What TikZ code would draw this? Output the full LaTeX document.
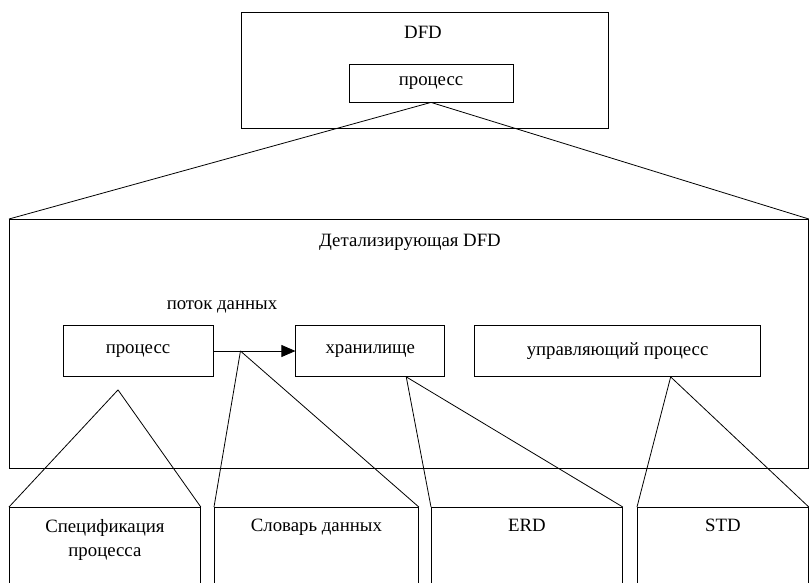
\documentclass[tikz,border=0pt]{standalone}
\usepackage{fontspec}
\setmainfont{Liberation Serif}
\usetikzlibrary{positioning}
\usetikzlibrary{arrows.meta}
\usetikzlibrary{calc}

\begin{document}
\begin{tikzpicture}[x=1pt,y=-1pt,font=\fontsize{18.8}{24}\selectfont,line width=0.8pt,
  frame/.style={draw,rectangle,inner sep=0pt,anchor=north west},
  box/.style={draw,rectangle,inner sep=0pt,minimum height=51pt},
  leaf/.style={draw,rectangle,inner sep=0pt,anchor=north west,minimum height=110pt},
  caption/.style={inner sep=0pt,anchor=north,align=center}]
\useasboundingbox (0,0) rectangle (809,582);
\clip (0,0) rectangle (809,582);
% upper level
\node[frame,minimum width=367pt,minimum height=116pt](dfd) at (241,12){};
\node(dfdT) at (423,32){DFD};
\node[draw,inner sep=0pt,minimum width=164pt,minimum height=38pt](top) at (431,83){процесс};
% detailed level
\node[frame,minimum width=799pt,minimum height=249pt](detail) at (9,219){};
\node(detailT) at (410,242){Детализирующая DFD};
\node[box,minimum width=150pt](proc) at (138,351){процесс};
\node[box,minimum width=149pt,right=82pt of proc](store){хранилище};
\node[box,minimum width=286pt,right=29pt of store](ctrl){управляющий процесс};
\node(flowT) at (222,307){поток данных};
\draw[-{Triangle[length=14pt,width=12pt]}] (proc) -- (store);
\coordinate (fork) at ($(proc.east)!0.33!(store.west)$);
\coordinate (specTop) at ($(proc.south)+(-20,13)$);
\coordinate (storeBot) at ($(store.south west)!0.74!(store.south east)$);
\coordinate (ctrlBot) at ($(ctrl.south west)!0.685!(ctrl.south east)$);
% lower level
\node[leaf,minimum width=191pt](spec) at (9,507){};
\node[leaf,minimum width=204pt](dict) at (214,507){};
\node[leaf,minimum width=191pt](erd) at (431,507){};
\node[leaf,minimum width=171pt](std) at (637,507){};
\node[caption,below=12pt of spec.north](specT){Спецификация\\процесса};
\node[caption,below=12pt of dict.north](dictT){Словарь данных};
\node[caption,below=12pt of erd.north](erdT){ERD};
\node[caption,below=12pt of std.north](stdT){STD};
% links
\draw (top.south) -- (detail.north west);
\draw (top.south) -- (detail.north east);
\draw (specTop) -- (spec.north west);
\draw (specTop) -- (spec.north east);
\draw (fork) -- (dict.north west);
\draw (fork) -- (dict.north east);
\draw (storeBot) -- (erd.north west);
\draw (storeBot) -- (erd.north east);
\draw (ctrlBot) -- (std.north west);
\draw (ctrlBot) -- (std.north east);
\end{tikzpicture}
\end{document}
